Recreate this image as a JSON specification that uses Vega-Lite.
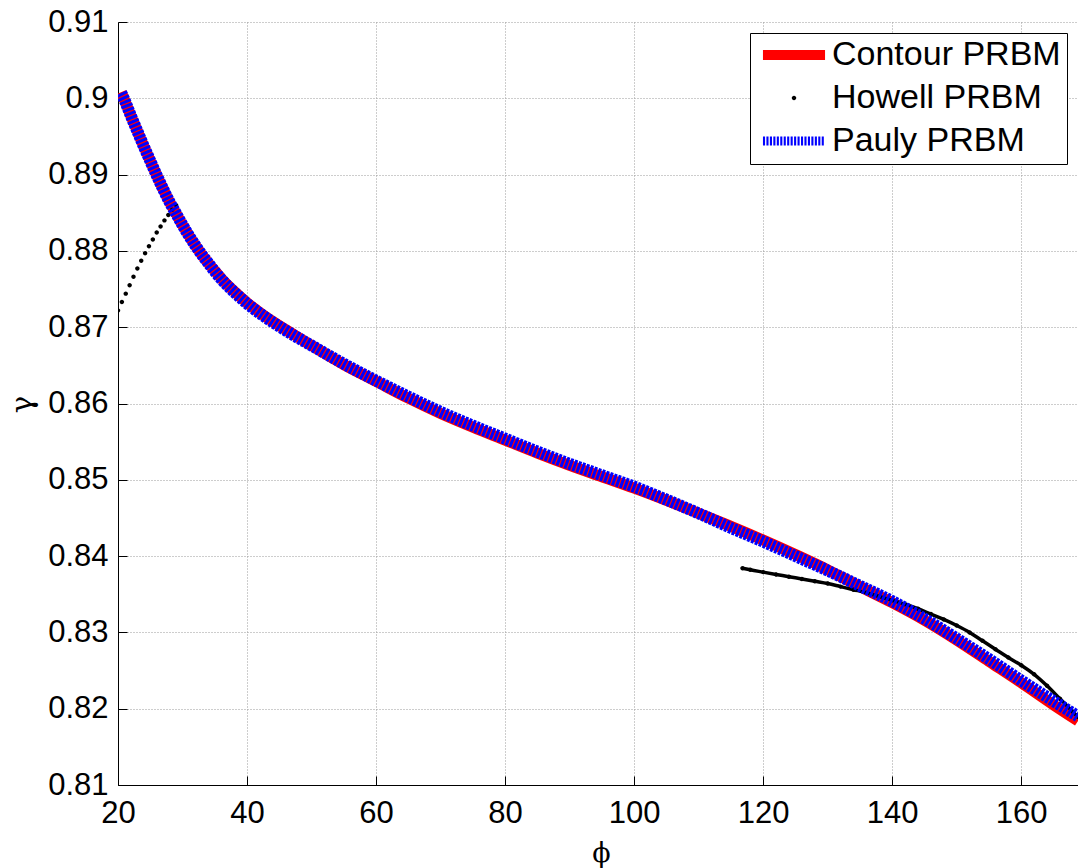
{
  "$schema": "https://vega.github.io/schema/vega-lite/v6.json",
  "autosize": {"type": "none"},
  "padding": {"left": 118, "top": 22, "right": 0, "bottom": 83},
  "width": 960,
  "height": 763,
  "background": "#ffffff",
  "config": {
    "view": {"stroke": null},
    "axis": {
      "domainColor": "#000000",
      "domainWidth": 1,
      "tickColor": "#000000",
      "tickWidth": 1,
      "tickSize": -9,
      "gridColor": "#9a9a9a",
      "gridDash": [1, 2],
      "gridWidth": 1,
      "labelFont": "Liberation Sans",
      "labelFontSize": 31,
      "labelColor": "#000000",
      "titleColor": "#000000",
      "titleFontWeight": "normal"
    },
    "legend": {
      "clipHeight": 32
    }
  },
  "datasets": {
    "curves": [
      {"series": "Contour PRBM", "phi": 20.5, "gamma": 0.9008},
      {"series": "Contour PRBM", "phi": 21, "gamma": 0.8998},
      {"series": "Contour PRBM", "phi": 22, "gamma": 0.8977},
      {"series": "Contour PRBM", "phi": 23, "gamma": 0.8957},
      {"series": "Contour PRBM", "phi": 24, "gamma": 0.8937},
      {"series": "Contour PRBM", "phi": 25, "gamma": 0.8918},
      {"series": "Contour PRBM", "phi": 26, "gamma": 0.8899},
      {"series": "Contour PRBM", "phi": 27, "gamma": 0.8881},
      {"series": "Contour PRBM", "phi": 28, "gamma": 0.8864},
      {"series": "Contour PRBM", "phi": 29, "gamma": 0.8849},
      {"series": "Contour PRBM", "phi": 30, "gamma": 0.8834},
      {"series": "Contour PRBM", "phi": 31, "gamma": 0.8820},
      {"series": "Contour PRBM", "phi": 32, "gamma": 0.8807},
      {"series": "Contour PRBM", "phi": 33, "gamma": 0.8795},
      {"series": "Contour PRBM", "phi": 34, "gamma": 0.8784},
      {"series": "Contour PRBM", "phi": 35, "gamma": 0.8774},
      {"series": "Contour PRBM", "phi": 36, "gamma": 0.8764},
      {"series": "Contour PRBM", "phi": 38, "gamma": 0.8747},
      {"series": "Contour PRBM", "phi": 40, "gamma": 0.8732},
      {"series": "Contour PRBM", "phi": 42.5, "gamma": 0.8716},
      {"series": "Contour PRBM", "phi": 45, "gamma": 0.8702},
      {"series": "Contour PRBM", "phi": 47.5, "gamma": 0.8689},
      {"series": "Contour PRBM", "phi": 50, "gamma": 0.8676},
      {"series": "Contour PRBM", "phi": 55, "gamma": 0.8651},
      {"series": "Contour PRBM", "phi": 60, "gamma": 0.8629},
      {"series": "Contour PRBM", "phi": 65, "gamma": 0.8607},
      {"series": "Contour PRBM", "phi": 70, "gamma": 0.8587},
      {"series": "Contour PRBM", "phi": 75, "gamma": 0.8569},
      {"series": "Contour PRBM", "phi": 80, "gamma": 0.8552},
      {"series": "Contour PRBM", "phi": 85, "gamma": 0.8535},
      {"series": "Contour PRBM", "phi": 90, "gamma": 0.8519},
      {"series": "Contour PRBM", "phi": 95, "gamma": 0.8504},
      {"series": "Contour PRBM", "phi": 100, "gamma": 0.8489},
      {"series": "Contour PRBM", "phi": 105, "gamma": 0.8473},
      {"series": "Contour PRBM", "phi": 110, "gamma": 0.8456},
      {"series": "Contour PRBM", "phi": 115, "gamma": 0.8439},
      {"series": "Contour PRBM", "phi": 120, "gamma": 0.8421},
      {"series": "Contour PRBM", "phi": 125, "gamma": 0.8402},
      {"series": "Contour PRBM", "phi": 130, "gamma": 0.8382},
      {"series": "Contour PRBM", "phi": 135, "gamma": 0.8360},
      {"series": "Contour PRBM", "phi": 140, "gamma": 0.8339},
      {"series": "Contour PRBM", "phi": 145, "gamma": 0.8316},
      {"series": "Contour PRBM", "phi": 150, "gamma": 0.8290},
      {"series": "Contour PRBM", "phi": 155, "gamma": 0.8262},
      {"series": "Contour PRBM", "phi": 160, "gamma": 0.8234},
      {"series": "Contour PRBM", "phi": 165, "gamma": 0.8205},
      {"series": "Contour PRBM", "phi": 168.8, "gamma": 0.8184},

      {"series": "Pauly PRBM", "phi": 20.5, "gamma": 0.9007},
      {"series": "Pauly PRBM", "phi": 21, "gamma": 0.8998},
      {"series": "Pauly PRBM", "phi": 22, "gamma": 0.8977},
      {"series": "Pauly PRBM", "phi": 23, "gamma": 0.8957},
      {"series": "Pauly PRBM", "phi": 24, "gamma": 0.8937},
      {"series": "Pauly PRBM", "phi": 25, "gamma": 0.8918},
      {"series": "Pauly PRBM", "phi": 26, "gamma": 0.8899},
      {"series": "Pauly PRBM", "phi": 27, "gamma": 0.8881},
      {"series": "Pauly PRBM", "phi": 28, "gamma": 0.8864},
      {"series": "Pauly PRBM", "phi": 29, "gamma": 0.8849},
      {"series": "Pauly PRBM", "phi": 30, "gamma": 0.8834},
      {"series": "Pauly PRBM", "phi": 31, "gamma": 0.8820},
      {"series": "Pauly PRBM", "phi": 32, "gamma": 0.8807},
      {"series": "Pauly PRBM", "phi": 33, "gamma": 0.8795},
      {"series": "Pauly PRBM", "phi": 34, "gamma": 0.8784},
      {"series": "Pauly PRBM", "phi": 35, "gamma": 0.8773},
      {"series": "Pauly PRBM", "phi": 36, "gamma": 0.8763},
      {"series": "Pauly PRBM", "phi": 38, "gamma": 0.8746},
      {"series": "Pauly PRBM", "phi": 40, "gamma": 0.8731},
      {"series": "Pauly PRBM", "phi": 42.5, "gamma": 0.8715},
      {"series": "Pauly PRBM", "phi": 45, "gamma": 0.8701},
      {"series": "Pauly PRBM", "phi": 47.5, "gamma": 0.8688},
      {"series": "Pauly PRBM", "phi": 50, "gamma": 0.8676},
      {"series": "Pauly PRBM", "phi": 55, "gamma": 0.8652},
      {"series": "Pauly PRBM", "phi": 60, "gamma": 0.8630},
      {"series": "Pauly PRBM", "phi": 65, "gamma": 0.8609},
      {"series": "Pauly PRBM", "phi": 70, "gamma": 0.8589},
      {"series": "Pauly PRBM", "phi": 75, "gamma": 0.8571},
      {"series": "Pauly PRBM", "phi": 80, "gamma": 0.8554},
      {"series": "Pauly PRBM", "phi": 85, "gamma": 0.8537},
      {"series": "Pauly PRBM", "phi": 90, "gamma": 0.8521},
      {"series": "Pauly PRBM", "phi": 95, "gamma": 0.8506},
      {"series": "Pauly PRBM", "phi": 100, "gamma": 0.8491},
      {"series": "Pauly PRBM", "phi": 105, "gamma": 0.8474},
      {"series": "Pauly PRBM", "phi": 110, "gamma": 0.8456},
      {"series": "Pauly PRBM", "phi": 115, "gamma": 0.8437},
      {"series": "Pauly PRBM", "phi": 120, "gamma": 0.8419},
      {"series": "Pauly PRBM", "phi": 125, "gamma": 0.8400},
      {"series": "Pauly PRBM", "phi": 130, "gamma": 0.8381},
      {"series": "Pauly PRBM", "phi": 135, "gamma": 0.8361},
      {"series": "Pauly PRBM", "phi": 140, "gamma": 0.8341},
      {"series": "Pauly PRBM", "phi": 145, "gamma": 0.8318},
      {"series": "Pauly PRBM", "phi": 150, "gamma": 0.8292},
      {"series": "Pauly PRBM", "phi": 155, "gamma": 0.8265},
      {"series": "Pauly PRBM", "phi": 160, "gamma": 0.8237},
      {"series": "Pauly PRBM", "phi": 165, "gamma": 0.8210},
      {"series": "Pauly PRBM", "phi": 168.8, "gamma": 0.8190},

      {"series": "Howell PRBM", "seg": 1, "phi": 20.0, "gamma": 0.8722},
      {"series": "Howell PRBM", "seg": 1, "phi": 20.6, "gamma": 0.8733},
      {"series": "Howell PRBM", "seg": 1, "phi": 21.2, "gamma": 0.8744},
      {"series": "Howell PRBM", "seg": 1, "phi": 21.8, "gamma": 0.8755},
      {"series": "Howell PRBM", "seg": 1, "phi": 22.4, "gamma": 0.8766},
      {"series": "Howell PRBM", "seg": 1, "phi": 23.0, "gamma": 0.8777},
      {"series": "Howell PRBM", "seg": 1, "phi": 23.6, "gamma": 0.8787},
      {"series": "Howell PRBM", "seg": 1, "phi": 24.2, "gamma": 0.8797},
      {"series": "Howell PRBM", "seg": 1, "phi": 24.8, "gamma": 0.8806},
      {"series": "Howell PRBM", "seg": 1, "phi": 25.4, "gamma": 0.8815},
      {"series": "Howell PRBM", "seg": 1, "phi": 26.0, "gamma": 0.8824},
      {"series": "Howell PRBM", "seg": 1, "phi": 26.6, "gamma": 0.8832},
      {"series": "Howell PRBM", "seg": 1, "phi": 27.2, "gamma": 0.8840},
      {"series": "Howell PRBM", "seg": 1, "phi": 27.8, "gamma": 0.8847},
      {"series": "Howell PRBM", "seg": 1, "phi": 28.4, "gamma": 0.8854},
      {"series": "Howell PRBM", "seg": 1, "phi": 29.0, "gamma": 0.8860},

      {"series": "Howell PRBM", "seg": 2, "phi": 116.8, "gamma": 0.8384},
      {"series": "Howell PRBM", "seg": 2, "phi": 118, "gamma": 0.8382},
      {"series": "Howell PRBM", "seg": 2, "phi": 120, "gamma": 0.8379},
      {"series": "Howell PRBM", "seg": 2, "phi": 122, "gamma": 0.8376},
      {"series": "Howell PRBM", "seg": 2, "phi": 124, "gamma": 0.8373},
      {"series": "Howell PRBM", "seg": 2, "phi": 126, "gamma": 0.8370},
      {"series": "Howell PRBM", "seg": 2, "phi": 128, "gamma": 0.8367},
      {"series": "Howell PRBM", "seg": 2, "phi": 130, "gamma": 0.8364},
      {"series": "Howell PRBM", "seg": 2, "phi": 132, "gamma": 0.8360},
      {"series": "Howell PRBM", "seg": 2, "phi": 134, "gamma": 0.8356},
      {"series": "Howell PRBM", "seg": 2, "phi": 136, "gamma": 0.8352},
      {"series": "Howell PRBM", "seg": 2, "phi": 138, "gamma": 0.8347},
      {"series": "Howell PRBM", "seg": 2, "phi": 140, "gamma": 0.8342},
      {"series": "Howell PRBM", "seg": 2, "phi": 142, "gamma": 0.8337},
      {"series": "Howell PRBM", "seg": 2, "phi": 144, "gamma": 0.8331},
      {"series": "Howell PRBM", "seg": 2, "phi": 146, "gamma": 0.8324},
      {"series": "Howell PRBM", "seg": 2, "phi": 148, "gamma": 0.8317},
      {"series": "Howell PRBM", "seg": 2, "phi": 150, "gamma": 0.8309},
      {"series": "Howell PRBM", "seg": 2, "phi": 152, "gamma": 0.8300},
      {"series": "Howell PRBM", "seg": 2, "phi": 154, "gamma": 0.8289},
      {"series": "Howell PRBM", "seg": 2, "phi": 156, "gamma": 0.8278},
      {"series": "Howell PRBM", "seg": 2, "phi": 158, "gamma": 0.8267},
      {"series": "Howell PRBM", "seg": 2, "phi": 160, "gamma": 0.8257},
      {"series": "Howell PRBM", "seg": 2, "phi": 162, "gamma": 0.8245},
      {"series": "Howell PRBM", "seg": 2, "phi": 164, "gamma": 0.8230},
      {"series": "Howell PRBM", "seg": 2, "phi": 166, "gamma": 0.8213},
      {"series": "Howell PRBM", "seg": 2, "phi": 168, "gamma": 0.8196},
      {"series": "Howell PRBM", "seg": 2, "phi": 168.8, "gamma": 0.8189}
    ]
  },
  "data": {"name": "curves"},
  "encoding": {
    "x": {
      "field": "phi",
      "type": "quantitative",
      "scale": {"domain": [20, 168.8], "nice": false, "zero": false},
      "axis": {
        "values": [20, 40, 60, 80, 100, 120, 140, 160],
        "labelPadding": 22,
        "labelFlush": false,
        "title": "ϕ",
        "titleFont": "DejaVu Serif",
        "titleFontSize": 27,
        "titleX": 483,
        "titleY": 68,
        "titleBaseline": "middle",
        "titleAlign": "center"
      }
    },
    "y": {
      "field": "gamma",
      "type": "quantitative",
      "scale": {"domain": [0.81, 0.91], "nice": false, "zero": false},
      "axis": {
        "values": [0.81, 0.82, 0.83, 0.84, 0.85, 0.86, 0.87, 0.88, 0.89, 0.9, 0.91],
        "format": ".2~f",
        "labelPadding": 19,
        "labelFlush": false,
        "title": "γ",
        "titleFont": "DejaVu Serif",
        "titleFontSize": 29,
        "titleAngle": -90,
        "titleX": -96,
        "titleY": 382,
        "titleAlign": "center",
        "titleBaseline": "middle"
      }
    }
  },
  "layer": [
    {
      "transform": [{"filter": "datum.series === 'Contour PRBM'"}],
      "mark": {"type": "line", "color": "#ff0000", "strokeWidth": 11, "interpolate": "monotone", "clip": true, "strokeCap": "butt"}
    },
    {
      "transform": [{"filter": "datum.series === 'Howell PRBM' && datum.seg === 2"}],
      "mark": {"type": "line", "color": "#000000", "strokeWidth": 3.5, "interpolate": "monotone", "clip": true}
    },
    {
      "transform": [{"filter": "datum.series === 'Howell PRBM'"}],
      "mark": {"type": "point", "filled": true, "opacity": 1, "size": 4096, "strokeWidth": 0, "clip": true},
      "encoding": {
        "color": {
          "field": "series",
          "type": "nominal",
          "scale": {"domain": ["Contour PRBM", "Howell PRBM", "Pauly PRBM"], "range": ["#ff0000", "#000000", "#0000ff"]},
          "legend": {
            "title": null,
            "orient": "none",
            "legendX": 632,
            "legendY": 11,
            "direction": "vertical",
            "strokeColor": "#000000",
            "fillColor": "#ffffff",
            "padding": 6,
            "symbolSize": 4096,
            "symbolStrokeWidth": 0,
            "symbolOpacity": 1,
            "symbolOffset": 6,
            "labelFont": "Liberation Sans",
            "labelFontSize": 34,
            "labelColor": "#000000",
            "labelOffset": 6,
            "rowPadding": 9,
            "labelLimit": 400
          }
        },
        "shape": {
          "field": "series",
          "type": "nominal",
          "scale": {
            "domain": ["Contour PRBM", "Howell PRBM", "Pauly PRBM"],
            "range": [
              "M-0.97,-0.16H0.97V0.16H-0.97Z",
              "M0.07,0A0.07,0.07,0,1,1,-0.07,0A0.07,0.07,0,1,1,0.07,0Z",
              "M-0.970,-0.14h0.066v0.28h-0.066ZM-0.862,-0.14h0.066v0.28h-0.066ZM-0.754,-0.14h0.066v0.28h-0.066ZM-0.646,-0.14h0.066v0.28h-0.066ZM-0.538,-0.14h0.066v0.28h-0.066ZM-0.430,-0.14h0.066v0.28h-0.066ZM-0.322,-0.14h0.066v0.28h-0.066ZM-0.214,-0.14h0.066v0.28h-0.066ZM-0.106,-0.14h0.066v0.28h-0.066ZM0.002,-0.14h0.066v0.28h-0.066ZM0.110,-0.14h0.066v0.28h-0.066ZM0.218,-0.14h0.066v0.28h-0.066ZM0.326,-0.14h0.066v0.28h-0.066ZM0.434,-0.14h0.066v0.28h-0.066ZM0.542,-0.14h0.066v0.28h-0.066ZM0.650,-0.14h0.066v0.28h-0.066ZM0.758,-0.14h0.066v0.28h-0.066ZM0.866,-0.14h0.066v0.28h-0.066Z"
            ]
          },
          "legend": {
            "title": null,
            "orient": "none",
            "legendX": 632,
            "legendY": 11,
            "direction": "vertical",
            "strokeColor": "#000000",
            "fillColor": "#ffffff",
            "padding": 6,
            "symbolSize": 4096,
            "symbolStrokeWidth": 0,
            "symbolOpacity": 1,
            "symbolOffset": 6,
            "labelFont": "Liberation Sans",
            "labelFontSize": 34,
            "labelColor": "#000000",
            "labelOffset": 6,
            "rowPadding": 9,
            "labelLimit": 400
          }
        }
      }
    },
    {
      "transform": [{"filter": "datum.series === 'Pauly PRBM'"}],
      "mark": {"type": "line", "color": "#0000ff", "strokeWidth": 12, "strokeDash": [3, 1.2], "interpolate": "monotone", "clip": true, "strokeCap": "butt"}
    }
  ]
}
